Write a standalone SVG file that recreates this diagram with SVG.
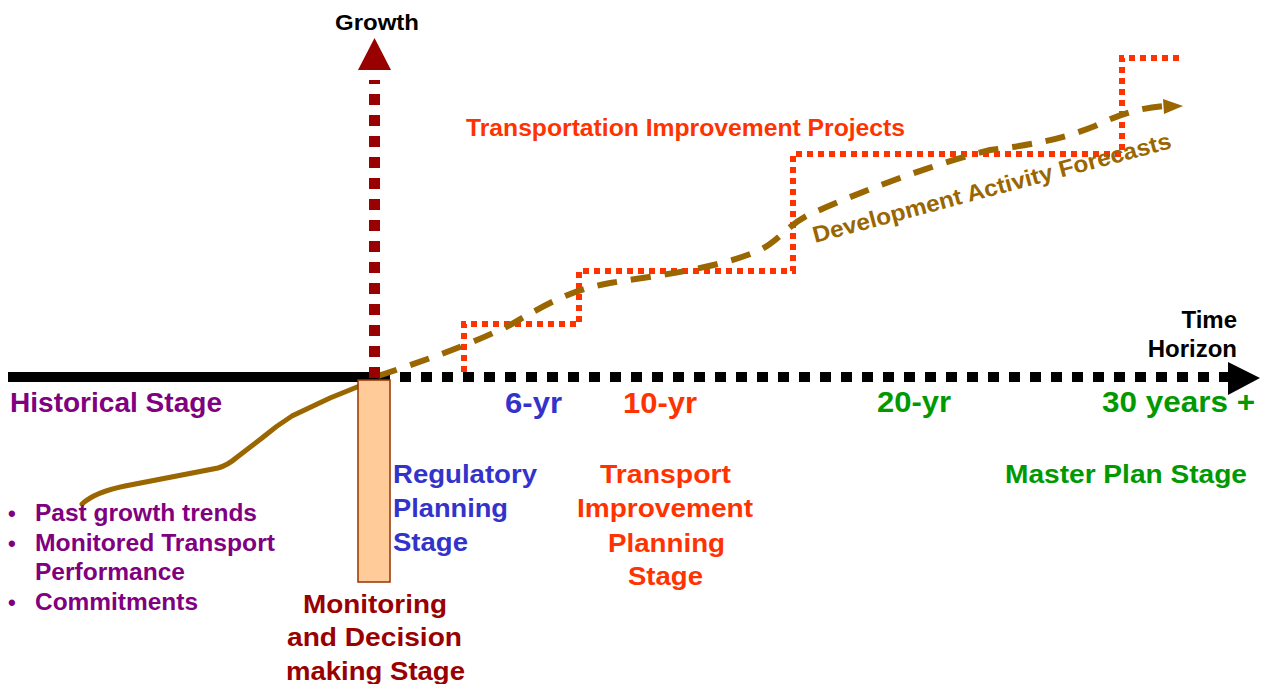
<svg xmlns="http://www.w3.org/2000/svg" width="1266" height="684" viewBox="0 0 1266 684">
<style>
text{font-family:"Liberation Sans",Arial,sans-serif;font-weight:bold}
.purple{fill:#800080}.blue{fill:#3333CC}.red{fill:#FF3300}.green{fill:#009900}.dred{fill:#990000}.brown{fill:#996600}.blk{fill:#000}
</style>
<rect width="1266" height="684" fill="#fff"/>
<g id="connectors">
  <path d="M82,504 Q95,492 125,486 L218,468 Q228,465 236,458 L262,438 Q276,426 292,416 L330,398 L372,381" fill="none" stroke="#996600" stroke-width="5" stroke-linecap="round"/>
  <line x1="8" y1="377" x2="390" y2="377" stroke="#000" stroke-width="10"/>
  <line x1="400" y1="377" x2="1228" y2="377" stroke="#000" stroke-width="10" stroke-dasharray="11 10"/>
  <polygon points="1228,362 1260,378 1228,395" fill="#000"/>
  <path d="M464,372 V324 H579 V271 H793 V154 H1122 V58 H1180" fill="none" stroke="#FF3300" stroke-width="6" stroke-dasharray="6 5"/>
  <path d="M378,376 C420,362 470,345 510,325 C545,305 570,290 610,283 C660,275 720,268 760,250 C780,240 790,222 815,212 C860,192 930,165 990,150 C1030,145 1060,140 1095,126 C1120,114 1140,108 1164,106" fill="none" stroke="#996600" stroke-width="6" stroke-dasharray="20 14"/>
  <polygon points="1163,99 1183,106 1164,114" fill="#996600"/>
  <line x1="374.5" y1="378" x2="374.5" y2="80" stroke="#990000" stroke-width="11" stroke-dasharray="11 10"/>
  <polygon points="358,70 374.5,38 391,70" fill="#990000"/>
</g>
<g id="monitoring-bar">
  <rect x="358" y="380" width="32" height="202" fill="#FFCC99" stroke="#993300" stroke-width="1.5"/>
</g>
<g id="growth-label"><text x="335" y="30" font-size="22" textLength="84" lengthAdjust="spacingAndGlyphs" class="blk">Growth</text></g>
<g id="time-label">
  <text x="1237" y="328" font-size="24" text-anchor="end" class="blk">Time</text>
  <text x="1237" y="357" font-size="24" text-anchor="end" class="blk">Horizon</text>
</g>
<g id="tip-label"><text x="466" y="136" font-size="23" textLength="439" lengthAdjust="spacingAndGlyphs" class="red">Transportation Improvement Projects</text></g>
<g id="forecast-label"><text transform="translate(815,243) rotate(-14.9)" font-size="23" textLength="370" lengthAdjust="spacingAndGlyphs" class="brown">Development Activity Forecasts</text></g>
<g id="historical">
  <text x="10" y="412" font-size="27" textLength="212" lengthAdjust="spacingAndGlyphs" class="purple">Historical Stage</text>
  <text x="8" y="521" font-size="22" class="purple">•</text>
  <text x="35" y="521" font-size="23" textLength="222" lengthAdjust="spacingAndGlyphs" class="purple">Past growth trends</text>
  <text x="8" y="551" font-size="22" class="purple">•</text>
  <text x="35" y="551" font-size="23" textLength="240" lengthAdjust="spacingAndGlyphs" class="purple">Monitored Transport</text>
  <text x="35" y="580" font-size="23" textLength="150" lengthAdjust="spacingAndGlyphs" class="purple">Performance</text>
  <text x="8" y="610" font-size="22" class="purple">•</text>
  <text x="35" y="610" font-size="23" textLength="163" lengthAdjust="spacingAndGlyphs" class="purple">Commitments</text>
</g>
<g id="monitoring-stage">
  <text x="303" y="613" font-size="25" textLength="144" lengthAdjust="spacingAndGlyphs" class="dred">Monitoring</text>
  <text x="287" y="646" font-size="25" textLength="175" lengthAdjust="spacingAndGlyphs" class="dred">and Decision</text>
  <text x="286" y="680" font-size="25" textLength="179" lengthAdjust="spacingAndGlyphs" class="dred">making Stage</text>
</g>
<g id="regulatory-stage">
  <text x="505" y="413" font-size="29" textLength="57" lengthAdjust="spacingAndGlyphs" class="blue">6-yr</text>
  <text x="393" y="483" font-size="25" textLength="144" lengthAdjust="spacingAndGlyphs" class="blue">Regulatory</text>
  <text x="393" y="517" font-size="25" textLength="115" lengthAdjust="spacingAndGlyphs" class="blue">Planning</text>
  <text x="393" y="551" font-size="25" textLength="75" lengthAdjust="spacingAndGlyphs" class="blue">Stage</text>
</g>
<g id="transport-stage">
  <text x="623" y="413" font-size="29" textLength="74" lengthAdjust="spacingAndGlyphs" class="red">10-yr</text>
  <text x="600" y="483" font-size="25" textLength="131" lengthAdjust="spacingAndGlyphs" class="red">Transport</text>
  <text x="577" y="517" font-size="25" textLength="176" lengthAdjust="spacingAndGlyphs" class="red">Improvement</text>
  <text x="608" y="552" font-size="25" textLength="117" lengthAdjust="spacingAndGlyphs" class="red">Planning</text>
  <text x="628" y="585" font-size="25" textLength="75" lengthAdjust="spacingAndGlyphs" class="red">Stage</text>
</g>
<g id="master-stage">
  <text x="877" y="412" font-size="29" textLength="74" lengthAdjust="spacingAndGlyphs" class="green">20-yr</text>
  <text x="1102" y="412" font-size="29" textLength="153" lengthAdjust="spacingAndGlyphs" class="green">30 years +</text>
  <text x="1005" y="483" font-size="25" textLength="242" lengthAdjust="spacingAndGlyphs" class="green">Master Plan Stage</text>
</g>
</svg>
